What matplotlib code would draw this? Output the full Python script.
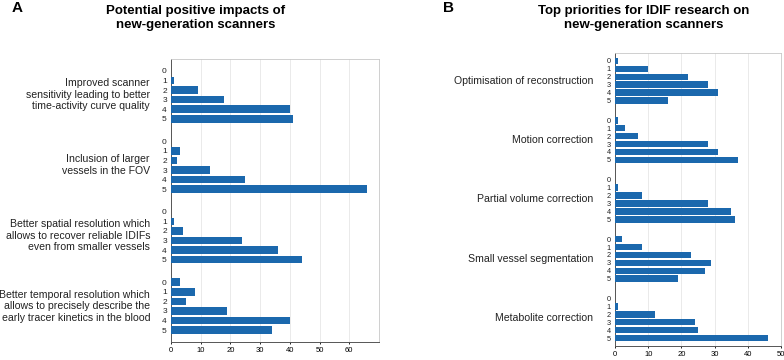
import numpy as np
import matplotlib.pyplot as plt

plt.rcParams['font.family'] = ['Liberation Sans', 'DejaVu Sans']

# panel A data
groups_a = ["Improved scanner\nsensitivity leading to better\ntime-activity curve quality",
            "Inclusion of larger\nvessels in the FOV",
            "Better spatial resolution which\nallows to recover reliable IDIFs\neven from smaller vessels",
            "Better temporal resolution which\nallows to precisely describe the\nearly tracer kinetics in the blood"]
vals_a = [[0, 1, 9, 18, 40, 41],
          [0, 3, 2, 13, 25, 66],
          [0, 1, 4, 24, 36, 44],
          [3, 8, 5, 19, 40, 34]]

# panel B data
groups_b = ["Optimisation of reconstruction", "Motion correction",
            "Partial volume correction", "Small vessel segmentation",
            "Metabolite correction"]
vals_b = [[1, 10, 22, 28, 31, 16],
          [1, 3, 7, 28, 31, 37],
          [0, 1, 8, 28, 35, 36],
          [2, 8, 23, 29, 27, 19],
          [0, 1, 12, 24, 25, 46]]

scores = ["0", "1", "2", "3", "4", "5"]
color = "#1b68ad"

fig = plt.figure(figsize=(7.84, 3.6), dpi=100)


def panel(ax, groups, vals, xmax, xticks, period, margin, label_x, fs_tick):
    pos, labs, widths = [], [], []
    for g, row in enumerate(vals):
        for i, v in enumerate(row):
            pos.append(g * period + i)
            labs.append(scores[i])
            widths.append(v)
    ax.barh(pos, widths, height=0.82, color=color, zorder=3)
    ax.set_yticks(pos)
    ax.set_yticklabels(labs, fontsize=fs_tick, color='#222222')
    ax.set_ylim(pos[-1] + margin, -margin)
    ax.set_xlim(0, xmax)
    ax.set_xticks(xticks)
    ax.tick_params(axis='x', labelsize=5.5, length=1.5, width=0.6, pad=2)
    ax.tick_params(axis='y', length=0, pad=3)
    ax.grid(axis='x', color='#e6e6e6', linewidth=0.6, zorder=0)
    for s in ['top', 'right']:
        ax.spines[s].set_color('#c8c8c8')
        ax.spines[s].set_linewidth(0.6)
    for s in ['left', 'bottom']:
        ax.spines[s].set_color('#555555')
        ax.spines[s].set_linewidth(0.7)
    trans = ax.get_yaxis_transform()
    for g, name in enumerate(groups):
        ax.text(label_x, g * period + 2.5, name, transform=trans, ha='right',
                multialignment='right', va='center', fontsize=7.6,
                linespacing=1.2, color='#222222')


ax1 = fig.add_axes([171 / 784, 1 - 342 / 360, 208 / 784, 283 / 360])
panel(ax1, groups_a, vals_a, 70, [0, 10, 20, 30, 40, 50, 60], 7.4, 1.26,
      -21 / 208, 6)

ax2 = fig.add_axes([615 / 784, 1 - 346 / 360, 166 / 784, 293 / 360])
panel(ax2, groups_b, vals_b, 50, [0, 10, 20, 30, 40, 50], 7.5, 1.0,
      -22 / 166, 5.3)

fig.text(12 / 784, 1 - 8 / 360, "A", fontsize=11, fontweight='bold', va='center')
fig.text(443 / 784, 1 - 8 / 360, "B", fontsize=11, fontweight='bold', va='center')
fig.text(196 / 784, 1 - 18 / 360, "Potential positive impacts of\nnew-generation scanners",
         ha='center', va='center', fontsize=9.5, fontweight='bold', linespacing=1.15)
fig.text(644 / 784, 1 - 18 / 360, "Top priorities for IDIF research on\nnew-generation scanners",
         ha='center', va='center', fontsize=9.5, fontweight='bold', linespacing=1.15)

fig.savefig("out.png", dpi=100)
